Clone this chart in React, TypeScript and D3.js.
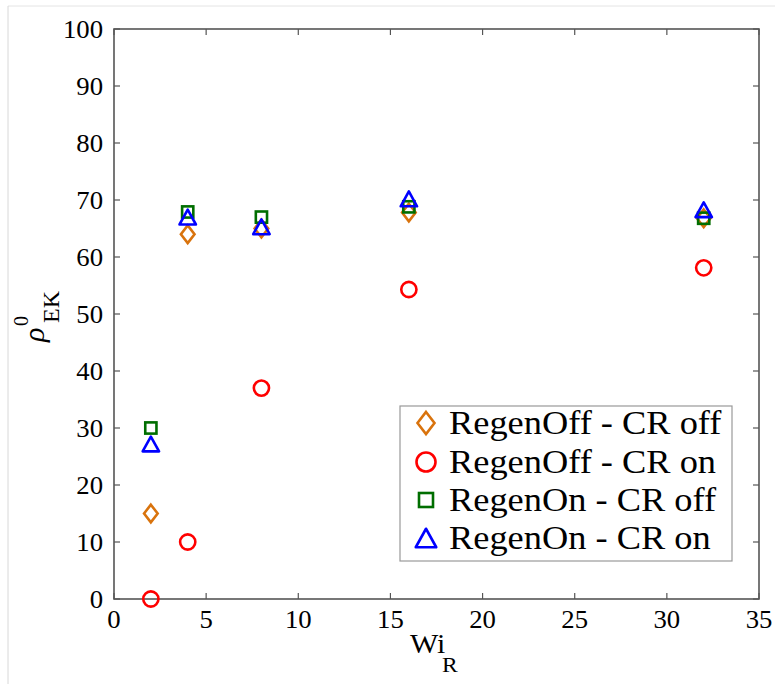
import React from "react";
import * as d3 from "d3";

const xValues = [2, 4, 8, 16, 32];
const regenOffCROff = [15, 64, 65, 67.8, 66.8];
const regenOffCROn = [0, 10, 37, 54.3, 58.1];
const regenOnCROff = [30, 67.9, 67, 68.8, 66.8];
const regenOnCROn = [27.2, 67, 65.3, 70.2, 68.3];

const xTicks = [0, 5, 10, 15, 20, 25, 30, 35];
const yTicks = [0, 10, 20, 30, 40, 50, 60, 70, 80, 90, 100];

const seriesNames = ["RegenOff - CR off", "RegenOff - CR on", "RegenOn - CR off", "RegenOn - CR on"];
const seriesColors = ["#d9730d", "#ff0000", "#006e00", "#0000ff"];
const seriesShapes = ["diamond", "circle", "square", "triangle"];
const seriesData = [regenOffCROff, regenOffCROn, regenOnCROff, regenOnCROn];

const W = 775;
const H = 684;
const left = 114;
const right = 759;
const top = 29;
const bottom = 599;
const fs = { fontFamily: "Liberation Serif" };
const SX = 1.07;

function marker(shape: string, cx: number, cy: number, s: number, color: string, key: string | number) {
  const sw = 2.6;
  if (shape === "circle") {
    return <circle key={key} cx={cx} cy={cy} r={7.6 * s} fill="none" stroke={color} strokeWidth={sw} />;
  }
  if (shape === "square") {
    const h = 5.6 * s;
    return <rect key={key} x={cx - h} y={cy - h} width={2 * h} height={2 * h} fill="none" stroke={color} strokeWidth={sw} />;
  }
  if (shape === "diamond") {
    const w = 6.8 * s, h = 8.8 * s;
    return <path key={key} d={`M${cx},${cy - h}L${cx + w},${cy}L${cx},${cy + h}L${cx - w},${cy}Z`} fill="none" stroke={color} strokeWidth={sw} />;
  }
  const w = 8.2 * s, h = 7.4 * s;
  return <path key={key} d={`M${cx},${cy - h}L${cx + w},${cy + h}L${cx - w},${cy + h}Z`} fill="none" stroke={color} strokeWidth={sw} strokeLinejoin="round" />;
}

export default function App() {
  const x = d3.scaleLinear().domain([0, 35]).range([left, right]);
  const y = d3.scaleLinear().domain([0, 100]).range([bottom, top]);
  const tl = 6;
  const axisColor = "#555";

  const legX = 400, legY = 406, legW = 332, legH = 155;
  const rowY = [423, 462, 500, 538];

  return (
    <svg width={W} height={H} style={{ position: "absolute", left: 0, top: 0, background: "#fff" }}>
      <rect x={0} y={0} width={W} height={H} fill="#fff" />
      <line x1={8} y1={6} x2={W} y2={6} stroke="#e4e4e4" strokeWidth={1} />
      <line x1={8} y1={6} x2={8} y2={H} stroke="#d8d8d8" strokeWidth={1} />

      {xTicks.map((t) => (
        <g key={"xt" + t}>
          <line x1={x(t)} x2={x(t)} y1={bottom} y2={bottom - tl} stroke={axisColor} strokeWidth={1.2} />
          <line x1={x(t)} x2={x(t)} y1={top} y2={top + tl} stroke={axisColor} strokeWidth={1.2} />
          <text transform={`translate(${x(t)},628) scale(${SX},1)`} textAnchor="middle" fontSize={25} fill="#000" style={fs}>{t}</text>
        </g>
      ))}
      {yTicks.map((t) => (
        <g key={"yt" + t}>
          <line x1={left} x2={left + tl} y1={y(t)} y2={y(t)} stroke={axisColor} strokeWidth={1.2} />
          <line x1={right} x2={right - tl} y1={y(t)} y2={y(t)} stroke={axisColor} strokeWidth={1.2} />
          <text transform={`translate(103,${y(t) + 8.5}) scale(${SX},1)`} textAnchor="end" fontSize={25} fill="#000" style={fs}>{t}</text>
        </g>
      ))}
      <rect x={left} y={top} width={right - left} height={bottom - top} fill="none" stroke={axisColor} strokeWidth={1.6} />

      {seriesData.map((vals, si) => (
        <g key={"s" + si}>
          {vals.map((v, i) => marker(seriesShapes[si], x(xValues[i]), y(v), 1, seriesColors[si], i))}
        </g>
      ))}

      <rect x={legX} y={legY} width={legW} height={legH} fill="#fff" stroke="#999" strokeWidth={1.2} />
      {seriesNames.map((n, i) => (
        <g key={"l" + i}>
          {marker(seriesShapes[i], 426, rowY[i], 1.25, seriesColors[i], "m")}
          <text transform={`translate(449,${rowY[i] + 11}) scale(${SX},1)`} fontSize={34} fill="#000" style={fs}>{n}</text>
        </g>
      ))}

      <text transform={`translate(410,653) scale(${SX},1)`} fontSize={28} fill="#000" style={fs}>Wi</text>
      <text transform={`translate(442,672) scale(${SX},1)`} fontSize={22} fill="#000" style={fs}>R</text>

      <g transform="translate(44,342) rotate(-90)">
        <text x={0} y={0} fontSize={30} fontStyle="italic" fill="#000" style={fs}>ρ</text>
        <text x={16} y={-16} fontSize={20} fill="#000" style={fs}>0</text>
        <text x={19} y={15} fontSize={24} fill="#000" style={fs}>EK</text>
      </g>
    </svg>
  );
}
